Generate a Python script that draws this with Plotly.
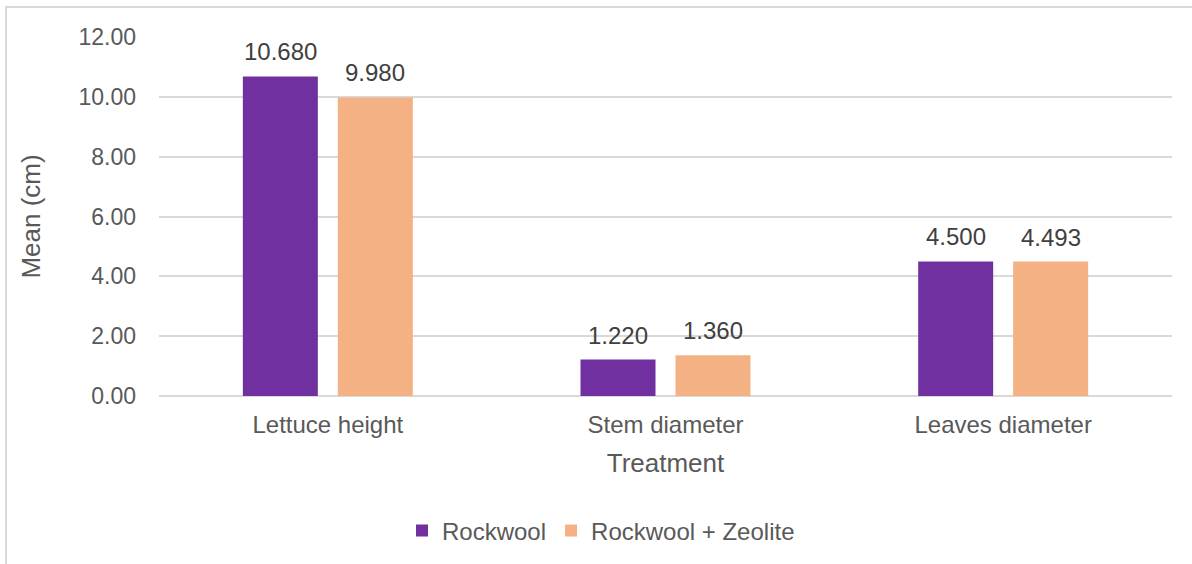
import plotly.graph_objects as go

categories = ["Lettuce height", "Stem diameter", "Leaves diameter"]
rockwool = [10.680, 1.220, 4.500]
rockwool_zeolite = [9.980, 1.360, 4.493]
series_names = ["Rockwool", "Rockwool + Zeolite"]
colors = ["#7030A0", "#F4B183"]
y_ticks = [0, 2, 4, 6, 8, 10, 12]
y_tick_labels = ["0.00", "2.00", "4.00", "6.00", "8.00", "10.00", "12.00"]

W, H = 1192, 564
ML, MR, MT, MB = 159, 20, 37, 167
FONT = "Liberation Sans, Arial, sans-serif"
GRAY = "#595959"

fig = go.Figure()
for name, vals, col in zip(series_names, [rockwool, rockwool_zeolite], colors):
    fig.add_trace(go.Bar(x=categories, y=vals, name=name, marker_color=col,
                         marker_line_width=0))

# data labels
plot_w = W - ML - MR
cat_w = plot_w / len(categories)
bargap = 0.4374
slot = (1 - bargap) * cat_w / 2
for i, vals in enumerate([rockwool, rockwool_zeolite]):
    shift = (-0.5 + i) * slot
    for c, v in zip(categories, vals):
        fig.add_annotation(x=c, y=v, text=f"{v:.3f}", showarrow=False,
                           xshift=shift, yanchor="bottom", yshift=9,
                           font=dict(family=FONT, size=24, color="#404040"))

plot_h = H - MT - MB
# outer chart frame (light gray)
fig.add_shape(type="rect", xref="paper", yref="paper",
              x0=(6 - ML) / plot_w, x1=(W + 30 - ML) / plot_w,
              y0=-(H + 30 - (H - MB)) / plot_h, y1=1 + (MT - 7) / plot_h,
              line=dict(color="#D9D9D9", width=2), layer="below")

fig.update_layout(
    width=W, height=H,
    margin=dict(l=ML, r=MR, t=MT, b=MB),
    paper_bgcolor="white", plot_bgcolor="white",
    barmode="group", bargap=bargap, bargroupgap=0.2105,
    font=dict(family=FONT, size=24, color=GRAY),
    showlegend=True,
    legend=dict(orientation="h", x=(601 - ML) / plot_w, xanchor="center",
                y=-(531 - (H - MB)) / plot_h, yanchor="middle",
                font=dict(family=FONT, size=24, color=GRAY),
                itemwidth=30, bgcolor="rgba(0,0,0,0)"),
    xaxis=dict(showgrid=False, showline=False, ticks="",
               tickfont=dict(family=FONT, size=24, color=GRAY),
               ticklabelstandoff=12,
               title=dict(text="Treatment", standoff=16,
                          font=dict(family=FONT, size=26, color=GRAY))),
    yaxis=dict(range=[0, 12], tickvals=y_ticks, ticktext=y_tick_labels,
               showgrid=True, gridcolor="#D9D9D9", gridwidth=2,
               zeroline=True, zerolinecolor="#D9D9D9", zerolinewidth=2,
               showline=False, ticks="", ticklabelstandoff=22,
               tickfont=dict(family=FONT, size=23, color=GRAY),
               title=dict(text="Mean (cm)", standoff=30,
                          font=dict(family=FONT, size=26, color=GRAY))),
)

fig.write_html("out.html")
